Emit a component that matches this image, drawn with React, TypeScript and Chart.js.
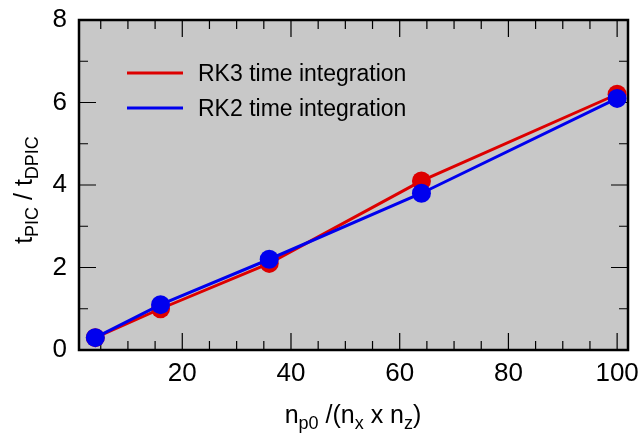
import React, { useEffect, useRef } from 'react';
import { Chart, registerables } from 'chart.js';

Chart.register(...registerables);

// particles per cell vs. PIC/DPIC run-time ratio
const particlesPerCell = [4, 16, 36, 64, 100];
const rk3Ratio = [0.3, 1.0, 2.1, 4.1, 6.2];
const rk2Ratio = [0.3, 1.1, 2.2, 3.8, 6.1];
const seriesLabels = ['RK3 time integration', 'RK2 time integration'];
const xLabelTicks = [20, 40, 60, 80, 100];
const yLabelTicks = [0, 2, 4, 6, 8];

const FONT = "'Liberation Sans', Arial, Helvetica, sans-serif";
const RED = '#dd0000';
const BLUE = '#0000ee';

type Part = [string, boolean];

// draws text with subscript parts, centred on x
function drawSubText(ctx: CanvasRenderingContext2D, parts: Part[], x: number, y: number, size: number, subSize: number, shift: number) {
  const w = parts.map(([t, sub]) => {
    ctx.font = `${sub ? subSize : size}px ${FONT}`;
    return ctx.measureText(t).width;
  });
  let cx = x - w.reduce((a, b) => a + b, 0) / 2;
  ctx.textAlign = 'left';
  ctx.textBaseline = 'alphabetic';
  parts.forEach(([t, sub], i) => {
    ctx.font = `${sub ? subSize : size}px ${FONT}`;
    ctx.fillText(t, cx, sub ? y + shift : y);
    cx += w[i];
  });
}

const framePlugin = {
  id: 'frame',
  beforeDraw(chart: any) {
    const { ctx, chartArea: a } = chart;
    ctx.save();
    ctx.fillStyle = '#c8c8c8';
    ctx.fillRect(a.left, a.top, a.right - a.left, a.bottom - a.top);
    ctx.restore();
  },
  beforeDatasetsDraw(chart: any) {
    const { ctx, chartArea: a, scales } = chart;
    ctx.save();
    ctx.strokeStyle = '#000';
    ctx.lineWidth = 1.2;
    ctx.beginPath();
    scales.x.ticks.forEach((t: any) => {
      const px = scales.x.getPixelForValue(t.value);
      const len = xLabelTicks.includes(t.value) ? 17 : 9;
      ctx.moveTo(px, a.bottom);
      ctx.lineTo(px, a.bottom - len);
      ctx.moveTo(px, a.top);
      ctx.lineTo(px, a.top + len);
    });
    scales.y.ticks.forEach((t: any) => {
      const py = scales.y.getPixelForValue(t.value);
      const len = yLabelTicks.includes(t.value) ? 17 : 9;
      ctx.moveTo(a.left, py);
      ctx.lineTo(a.left + len, py);
      ctx.moveTo(a.right, py);
      ctx.lineTo(a.right - len, py);
    });
    ctx.stroke();
    ctx.lineWidth = 2.5;
    ctx.strokeRect(a.left, a.top, a.right - a.left, a.bottom - a.top);
    ctx.restore();
  },
  afterDraw(chart: any) {
    const { ctx } = chart;
    ctx.save();
    ctx.fillStyle = '#000';

    // legend
    const colors = [RED, BLUE];
    seriesLabels.forEach((label, i) => {
      const y = 73 + i * 35;
      ctx.strokeStyle = colors[i];
      ctx.lineWidth = 3;
      ctx.beginPath();
      ctx.moveTo(127, y);
      ctx.lineTo(183, y);
      ctx.stroke();
      ctx.font = `23px ${FONT}`;
      ctx.textAlign = 'left';
      ctx.textBaseline = 'alphabetic';
      ctx.fillText(label, 198, y + 8);
    });

    // axis titles
    drawSubText(ctx, [['n', false], ['p0', true], [' /(n', false], ['x', true], [' x n', false], ['z', true], [')', false]], 353, 423, 25, 18, 6);
    ctx.translate(32, 190);
    ctx.rotate(-Math.PI / 2);
    drawSubText(ctx, [['t', false], ['PIC', true], [' / t', false], ['DPIC', true]], 0, 0, 25, 18, 6);
    ctx.restore();
  },
};

const App: React.FC = () => {
  const canvasRef = useRef<HTMLCanvasElement | null>(null);

  useEffect(() => {
    document.body.style.margin = '0';
    if (!canvasRef.current) return;
    const ctx = canvasRef.current.getContext('2d');
    if (!ctx) return;

    const chart = new Chart(ctx, {
      type: 'line',
      data: {
        datasets: [
          {
            label: seriesLabels[0],
            data: particlesPerCell.map((x, i) => ({ x, y: rk3Ratio[i] })),
            borderColor: RED,
            backgroundColor: RED,
            borderWidth: 3,
            pointRadius: 9.5,
            pointBorderWidth: 0,
            order: 1,
          },
          {
            label: seriesLabels[1],
            data: particlesPerCell.map((x, i) => ({ x, y: rk2Ratio[i] })),
            borderColor: BLUE,
            backgroundColor: BLUE,
            borderWidth: 3,
            pointRadius: 9.5,
            pointBorderWidth: 0,
            order: 0,
          },
        ],
      },
      options: {
        animation: false,
        responsive: true,
        maintainAspectRatio: false,
        layout: { padding: { top: 20, right: 15, left: 0, bottom: 0 } },
        plugins: { legend: { display: false }, tooltip: { enabled: false } },
        scales: {
          x: {
            type: 'linear',
            min: 1,
            max: 102,
            grid: { display: false, drawTicks: false },
            border: { display: false },
            ticks: {
              stepSize: 5,
              includeBounds: false,
              autoSkip: false,
              maxRotation: 0,
              padding: 8,
              color: '#000',
              font: { family: FONT, size: 26 },
              callback: (v: any) => (xLabelTicks.includes(Number(v)) ? String(v) : ''),
            },
            afterFit: (s: any) => {
              s.height = 85;
              s.paddingLeft = 0;
              s.paddingRight = 0;
            },
          },
          y: {
            type: 'linear',
            min: 0,
            max: 8,
            grid: { display: false, drawTicks: false },
            border: { display: false },
            ticks: {
              stepSize: 1,
              autoSkip: false,
              padding: 12,
              color: '#000',
              font: { family: FONT, size: 26 },
              callback: (v: any) => (yLabelTicks.includes(Number(v)) ? String(v) : ''),
            },
            afterFit: (s: any) => {
              s.width = 79;
              s.paddingTop = 0;
              s.paddingBottom = 0;
            },
          },
        },
      },
      plugins: [framePlugin],
    });

    return () => {
      chart.destroy();
    };
  }, []);

  return (
    <div style={{ width: 643, height: 435, position: 'relative' }}>
      <canvas ref={canvasRef} />
    </div>
  );
};

export default App;
